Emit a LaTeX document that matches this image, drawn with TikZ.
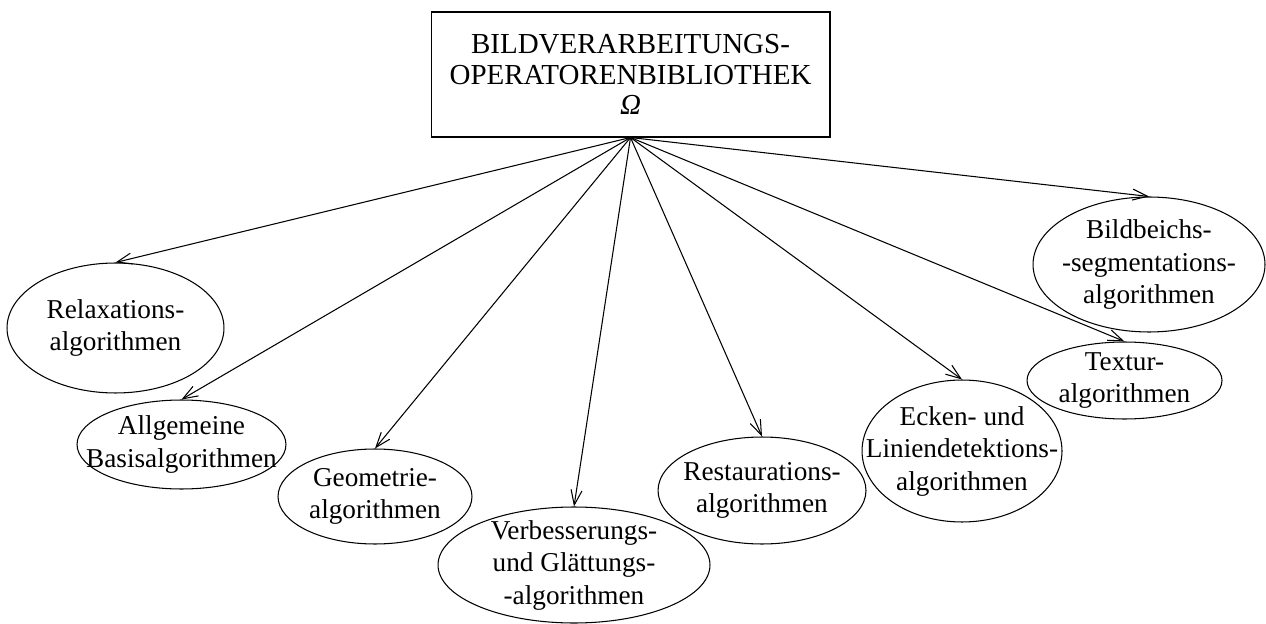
\documentclass[tikz,border=0pt]{standalone}
\usepackage{fontspec}
\setmainfont{Liberation Serif}
\usetikzlibrary{shapes.geometric, arrows.meta}

\begin{document}
\begin{tikzpicture}[
    x=0.02cm, y=-0.02cm,
    >={Straight Barb[length=3mm, width=2.2mm]},
    lib/.style={draw, rectangle, line width=0.6pt, minimum width=7.98cm, minimum height=2.5cm,
        align=center, font=\fontsize{16.5}{17.5}\selectfont},
    algo/.style={draw, ellipse, line width=0.6pt, inner sep=-1cm, align=center,
        font=\fontsize{15.5}{18.5}\selectfont},
    every edge/.append style={line width=0.6pt}
]
   \useasboundingbox (0,0) rectangle (1266,624);

   % Library box
   \node[lib] (lib) at (630.5,74.5) {BILDVERARBEITUNGS-\\OPERATORENBIBLIOTHEK\\\textit{Ω}};

   % Algorithm groups
   \node[algo, minimum width=4.34cm, minimum height=2.6cm] (relax) at (115.5,328) {Relaxations-\\algorithmen};
   \node[algo, minimum width=4.18cm, minimum height=1.78cm] (basis) at (181.5,444.5) {Allgemeine\\Basisalgorithmen};
   \node[algo, minimum width=3.88cm, minimum height=1.9cm] (geo) at (375,496.5) {Geometrie-\\algorithmen};
   \node[algo, minimum width=5.44cm, minimum height=2.32cm] (verb) at (574,565) {Verbesserungs-\\und Glättungs-\\-algorithmen};
   \node[algo, minimum width=4.16cm, minimum height=2.14cm] (rest) at (762,490.5) {Restaurations-\\algorithmen};
   \node[algo, minimum width=4.0cm, minimum height=2.84cm] (ecken) at (962,451) {Ecken- und\\Liniendetektions-\\algorithmen};
   \node[algo, minimum width=3.9cm, minimum height=1.54cm] (textur) at (1124.5,380.5) {Textur-\\algorithmen};
   \node[algo, minimum width=4.64cm, minimum height=2.7cm] (segm) at (1149,264.5) {Bildbeichs-\\-segmentations-\\algorithmen};

   % Connections
   \path[->]
   (lib.south) edge (relax.north)
               edge (basis.north)
               edge (geo.north)
               edge (verb.north)
               edge (rest.north)
               edge (ecken.north)
               edge (textur.north)
               edge (segm.north);
\end{tikzpicture}
\end{document}
